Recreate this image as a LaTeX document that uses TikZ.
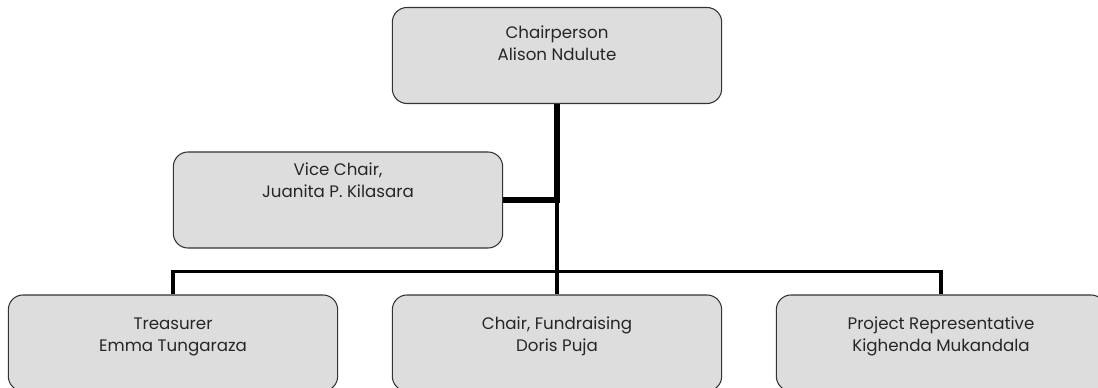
\documentclass[tikz,border=0pt]{standalone}
\usepackage{fontspec}
\setmainfont{Poppins}
\definecolor{boxfill}{HTML}{DDDDDD}
\definecolor{boxline}{HTML}{333333}
\begin{document}
\begin{tikzpicture}[x=0.75pt,y=-0.75pt,
  orgbox/.style={draw=boxline,line width=0.8pt,fill=boxfill,rounded corners=11pt,
    minimum width=247pt,minimum height=72pt,inner sep=0pt},
  orgtext/.style={align=center,anchor=base,inner sep=0pt,
    font=\fontsize{12.5}{16.5}\selectfont,text=black!85},
  wire/.style={line width=2.3pt}]
\useasboundingbox (0,0) rectangle (1098,388);
\clip (0,0) rectangle (1098,388);
% boxes
\node[orgbox] (chair) at (557,55.5) {};
\node[orgbox] (vice) at (338,200) {};
\node[orgbox] (treas) at (173,343) {};
\node[orgbox] (fund) at (557,343) {};
\node[orgbox] (proj) at (941,343) {};
% texts (base anchor = baseline of last line)
\node[orgtext] (chairT) at (557,61) {Chairperson\\Alison Ndulute};
\node[orgtext] (viceT) at (338,198) {Vice Chair,\\Juanita P. Kilasara};
\node[orgtext] (treasT) at (173,351) {Treasurer\\Emma Tungaraza};
\node[orgtext] (fundT) at (557,351) {Chair, Fundraising\\Doris Puja};
\node[orgtext] (projT) at (941,351) {Project Representative\\Kighenda Mukandala};
% connectors
\coordinate (j) at (chair.south |- vice.east);
\draw[line width=4.5pt] (chair.south) -- ([yshift=-2pt]j);
\draw[line width=3.8pt] (vice.east) -- ([xshift=2.2pt]j);
\draw[line width=3pt] (j) -- (fund.north);
\draw[wire] (treas.north) -- ++(0,-23) -| (proj.north);
\end{tikzpicture}
\end{document}
